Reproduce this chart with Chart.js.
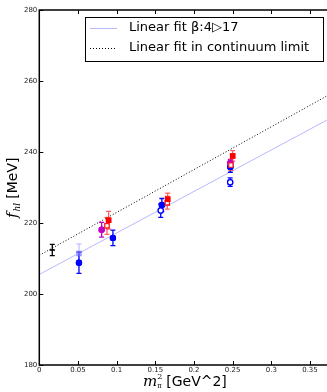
<!DOCTYPE html>
<html>
<head>
<meta charset="utf-8">
<script src="https://cdn.jsdelivr.net/npm/chart.js@4.4.1/dist/chart.umd.min.js"></script>
<style>
  html, body { margin: 0; padding: 0; background: #fff; }
  #c { display: block; }
</style>
</head>
<body>
<canvas id="c" width="327" height="392"></canvas>
<script>
// fit lines, evaluated at the two ends of the x range
const fitX = [0, 0.372];
const betaFitY = [205.5, 249.0];
const contFitY = [210.9, 255.8];

// lattice points: x = m_pi^2, y = f_hl, e = error
const blueFilledX = [0.0513, 0.0952, 0.1585, 0.247];
const blueFilledY = [208.8, 215.8, 225.1, 235.8];
const blueFilledE = [3.0, 2.2, 1.8, 1.5];

const blueOpenX = [0.157, 0.2468];
const blueOpenY = [223.5, 231.5];
const blueOpenE = [1.9, 1.2];

const lightBlueX = [0.0513];
const lightBlueY = [211.4];
const lightBlueE = [2.7];

const magentaX = [0.0806, 0.247];
const magentaY = [218.1, 236.9];
const magentaE = [2.1, 1.0];

const redFilledX = [0.0896, 0.166, 0.250];
const redFilledY = [220.8, 226.7, 238.9];
const redFilledE = [2.5, 1.7, 1.5];

const redOpenX = [0.0875, 0.1655, 0.2477];
const redOpenY = [219.2, 225.7, 236.3];
const redOpenE = [2.4, 1.8, 1.5];

const contX = [0.0168];
const contY = [212.4];
const contE = [1.6];

const xTicks = [0, 0.05, 0.1, 0.15, 0.2, 0.25, 0.3, 0.35];
const yTicks = [180, 200, 220, 240, 260, 280];

function pts(xs, ys, es) {
    return xs.map((x, i) => ({ x: x, y: ys[i], e: es ? es[i] : 0 }));
}

function pointSet(label, xs, ys, es, color, style, fill, barColor) {
    return {
        label: label,
        data: pts(xs, ys, es),
        pointStyle: style,
        pointRadius: style === 'rect' ? 3 : 2.6,
        pointBackgroundColor: fill,
        pointBorderColor: color,
        pointBorderWidth: 1.2,
        barColor: barColor || color,
        showLine: false,
        hideLegend: true
    };
}

const errorBars = {
    id: 'errorBars',
    afterDatasetsDraw(chart) {
        const ctx = chart.ctx, xs = chart.scales.x, ys = chart.scales.y;
        ctx.save();
        chart.data.datasets.forEach(ds => {
            if (!ds.barColor) return;
            ctx.strokeStyle = ds.barColor;
            ctx.lineWidth = 1.3;
            ds.data.forEach(p => {
                const px = xs.getPixelForValue(p.x);
                const top = ys.getPixelForValue(p.y + p.e);
                const bot = ys.getPixelForValue(p.y - p.e);
                ctx.beginPath();
                ctx.moveTo(px, top); ctx.lineTo(px, bot);
                ctx.moveTo(px - 2.5, top); ctx.lineTo(px + 2.5, top);
                ctx.moveTo(px - 2.5, bot); ctx.lineTo(px + 2.5, bot);
                ctx.stroke();
            });
        });
        ctx.restore();
    }
};

// redraw markers over the error bars
const markersOnTop = {
    id: 'markersOnTop',
    afterDatasetsDraw(chart) {
        chart.data.datasets.forEach((ds, i) => {
            if (!ds.barColor) return;
            chart.getDatasetMeta(i).data.forEach(el => el.draw(chart.ctx, chart.chartArea));
        });
    }
};

const frame = {
    id: 'frame',
    afterDraw(chart) {
        const ctx = chart.ctx, a = chart.chartArea;
        const xs = chart.scales.x, ys = chart.scales.y;
        ctx.save();
        ctx.strokeStyle = '#000';
        ctx.lineWidth = 1.5;
        ctx.strokeRect(a.left, a.top, a.right - a.left + 2, a.bottom - a.top);
        ctx.lineWidth = 1;
        ctx.beginPath();
        xTicks.forEach(v => {
            const px = Math.round(xs.getPixelForValue(v)) + 0.5;
            ctx.moveTo(px, a.bottom); ctx.lineTo(px, a.bottom - 4);
            ctx.moveTo(px, a.top); ctx.lineTo(px, a.top + 4);
        });
        yTicks.forEach(v => {
            const py = Math.round(ys.getPixelForValue(v)) + 0.5;
            ctx.moveTo(a.left, py); ctx.lineTo(a.left + 4, py);
        });
        ctx.stroke();

        // legend box
        const lx = 85, ly = 17, lw = 238, lh = 44;
        ctx.fillStyle = '#fff';
        ctx.fillRect(lx, ly, lw, lh);
        ctx.strokeStyle = '#000';
        ctx.lineWidth = 1;
        ctx.strokeRect(lx + 0.5, ly + 0.5, lw, lh);
        const lines = chart.data.datasets.filter(d => !d.hideLegend);
        lines.forEach((d, i) => {
            const yy = 28 + i * 20;
            ctx.strokeStyle = d.borderColor;
            ctx.lineWidth = d.borderWidth;
            ctx.setLineDash(d.borderDash || []);
            ctx.beginPath();
            ctx.moveTo(90, yy + 0.5); ctx.lineTo(117, yy + 0.5);
            ctx.stroke();
            ctx.setLineDash([]);
            ctx.fillStyle = '#000';
            ctx.font = '13px "DejaVu Sans"';
            ctx.textBaseline = 'middle';
            ctx.textAlign = 'left';
            ctx.fillText(d.label, 129, yy);
        });

        // axis titles
        ctx.fillStyle = '#000';
        ctx.textBaseline = 'alphabetic';
        let x0 = 143, yb = 386;
        ctx.font = 'italic 15px "DejaVu Serif"';
        ctx.fillText('m', x0, yb);
        x0 += ctx.measureText('m').width;
        ctx.font = '8px "DejaVu Serif"';
        ctx.fillText('2', x0, yb - 7);
        ctx.font = '7px "DejaVu Serif"';
        ctx.fillText('π', x0, yb + 2);
        x0 += 9;
        ctx.font = '14px "DejaVu Sans"';
        ctx.fillText('[GeV^2]', x0, yb);

        ctx.translate(17, 188);
        ctx.rotate(-Math.PI / 2);
        let y0 = -30;
        ctx.font = 'italic 15px "DejaVu Serif"';
        ctx.fillText('f', y0, 0);
        y0 += ctx.measureText('f').width + 1;
        ctx.font = 'italic 9px "DejaVu Serif"';
        ctx.fillText('hl', y0, 3);
        y0 += ctx.measureText('hl').width + 4;
        ctx.font = '14px "DejaVu Sans"';
        ctx.fillText('[MeV]', y0, 0);
        ctx.restore();
    }
};

new Chart(document.getElementById('c'), {
    type: 'scatter',
    data: {
        datasets: [
            {
                label: 'Linear fit β:4▷17',
                data: pts(fitX, betaFitY),
                showLine: true,
                borderColor: '#b8b8ff',
                borderWidth: 1,
                pointRadius: 0,
                pointHoverRadius: 0
            },
            {
                label: 'Linear fit in continuum limit',
                data: pts(fitX, contFitY),
                showLine: true,
                borderColor: '#000',
                borderWidth: 1,
                borderDash: [1, 2],
                pointRadius: 0,
                pointHoverRadius: 0
            },
            pointSet('beta light', lightBlueX, lightBlueY, lightBlueE, 'rgba(120,120,255,0.45)', 'rect', 'rgba(160,160,255,0.45)'),
            pointSet('blue open', blueOpenX, blueOpenY, blueOpenE, '#0000ff', 'circle', '#fff'),
            pointSet('blue filled', blueFilledX, blueFilledY, blueFilledE, '#0000ff', 'circle', '#0000ff'),
            pointSet('magenta', magentaX, magentaY, magentaE, '#c000c0', 'circle', '#c000c0'),
            pointSet('red open', redOpenX, redOpenY, redOpenE, '#ff2020', 'rect', '#fff', 'rgba(255,60,60,0.8)'),
            pointSet('red filled', redFilledX, redFilledY, redFilledE, '#ff0000', 'rect', '#ff0000', 'rgba(255,60,60,0.8)'),
            pointSet('continuum', contX, contY, contE, '#000', 'line', '#000')
        ]
    },
    options: {
        responsive: false,
        animation: false,
        layout: { autoPadding: false, padding: { top: 10, right: 0, left: 0, bottom: 0 } },
        plugins: { legend: { display: false }, tooltip: { enabled: false } },
        scales: {
            x: {
                type: 'linear',
                min: 0,
                max: 0.372,
                afterBuildTicks: s => { s.ticks = xTicks.map(v => ({ value: v })); },
                afterFit: s => { s.height = 27; s.paddingRight = 0; s.paddingLeft = 0; },
                grid: { display: false, drawTicks: false },
                border: { display: false },
                ticks: {
                    font: { size: 7, family: 'DejaVu Sans' },
                    color: '#222',
                    padding: 1,
                    maxRotation: 0,
                    callback: v => String(v)
                }
            },
            y: {
                min: 180,
                max: 280,
                afterBuildTicks: s => { s.ticks = yTicks.map(v => ({ value: v })); },
                afterFit: s => { s.width = 39.3; s.paddingTop = 0; s.paddingBottom = 0; },
                grid: { display: false, drawTicks: false },
                border: { display: false },
                ticks: {
                    font: { size: 7, family: 'DejaVu Sans' },
                    color: '#222',
                    padding: 2
                }
            }
        }
    },
    plugins: [errorBars, markersOnTop, frame]
});
</script>
</body>
</html>
